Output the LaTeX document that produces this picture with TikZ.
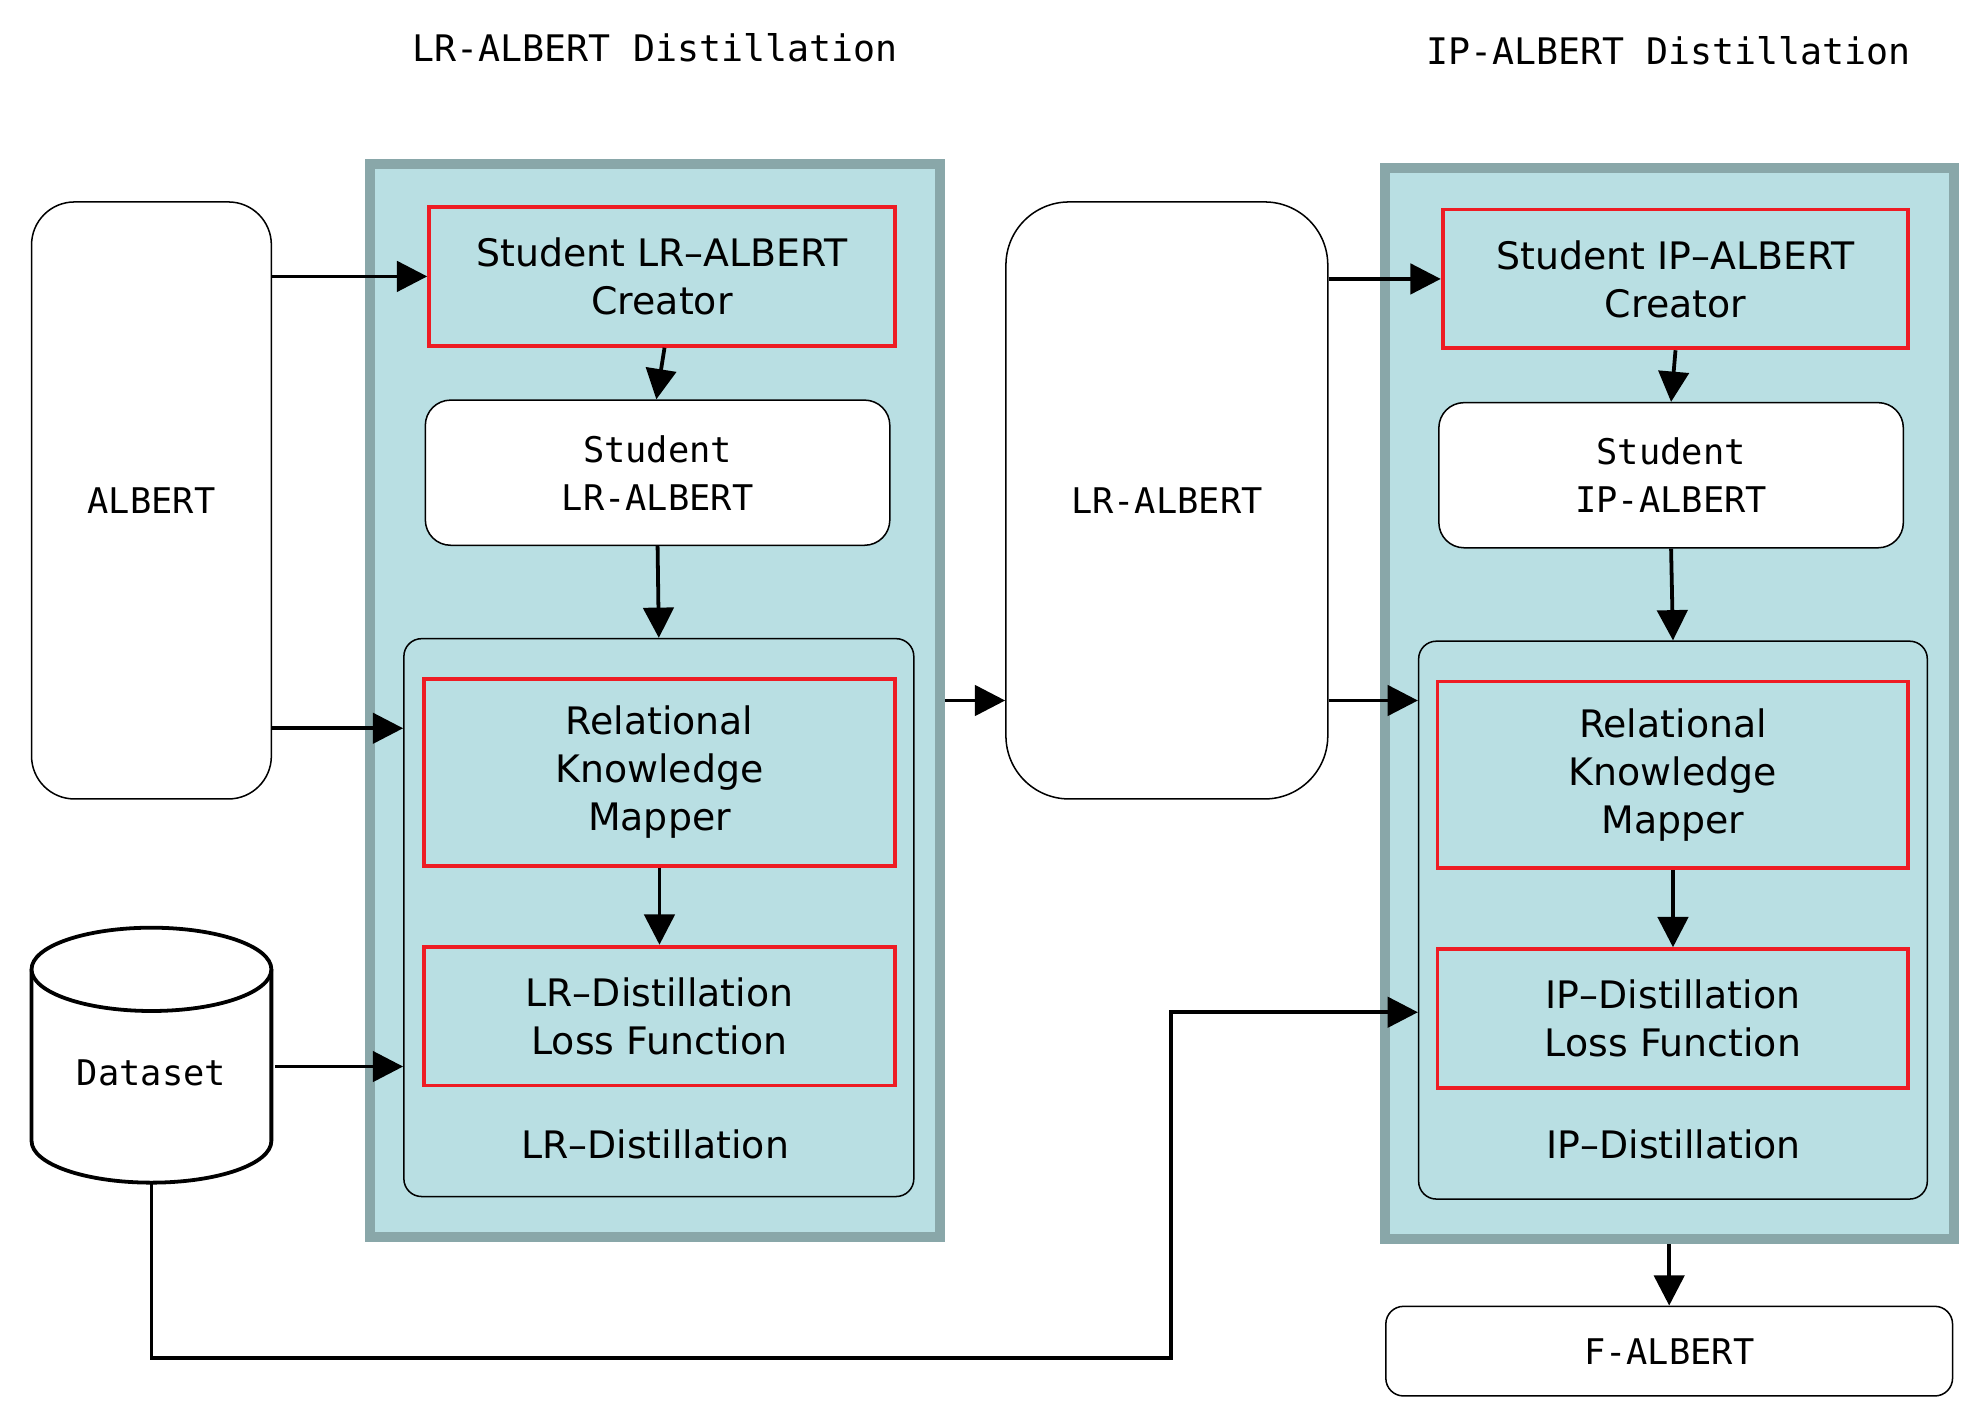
\documentclass[tikz,border=0pt]{standalone}
\usepackage{fontspec}
\setmainfont{DejaVu Sans}
\newfontfamily\mono{DejaVu Sans Mono}
\usetikzlibrary{fit,arrows.meta,shapes.geometric}
\definecolor{fillc}{HTML}{B9DFE3}
\definecolor{borderc}{HTML}{89A7A9}
\definecolor{redc}{HTML}{EE1C24}
\begin{document}
\begin{tikzpicture}[x=0.5pt,y=-0.5pt,
  arr/.style={line width=1.5pt,-{Triangle[length=12pt,width=12pt]}},
  outer/.style={draw=borderc,line width=4pt,fill=fillc,inner sep=0pt},
  redb/.style={draw=redc,line width=1.5pt,fill=fillc,inner sep=0pt,align=center,font=\fontsize{15}{19}\selectfont},
  whiteb/.style={draw=black,line width=0.6pt,fill=white,inner sep=0pt,align=center,font=\mono\fontsize{14}{19}\selectfont},
  innerb/.style={draw=black,line width=0.6pt,fill=fillc,inner sep=0pt,rounded corners=7pt},
  lbl/.style={font=\fontsize{15}{19}\selectfont},
  ttl/.style={font=\mono\fontsize{14.5}{18}\selectfont}]
\useasboundingbox (0,0) rectangle (1564,1120);
\node[ttl] (t1) at (519,38) {LR-ALBERT Distillation};
\node[ttl] (t2) at (1322,40) {IP-ALBERT Distillation};
% left
\node[outer,fit={(293,130)(745,980)}] (outL) {};
\node[outer,fit={(1097,133)(1548,982)}] (outR) {};
\node[whiteb,rounded corners=17pt,fit={(25,160)(215,633)}] (albert) {};
\node[font=\mono\fontsize{14}{19}\selectfont] at (albert.center) {ALBERT};
\node[whiteb,rounded corners=25pt,fit={(797,160)(1052,633)}] (lr) {};
\node[font=\mono\fontsize{14}{19}\selectfont] at (lr.center) {LR-ALBERT};
\node[redb,fit={(340,164)(709,274)}] (crL) {};
\node[lbl,align=center] at (crL.center) {Student LR–ALBERT\\Creator};
\node[whiteb,rounded corners=10pt,fit={(337,317)(705,432)}] (stL) {};
\node[font=\mono\fontsize{14}{19}\selectfont,align=center] at (stL.center) {Student\\LR-ALBERT};
\node[innerb,fit={(320,506)(724,948)}] (inL) {};
\node[redb,fit={(336,538)(709,686)}] (rkL) {};
\node[lbl,align=center] at (rkL.center) {Relational\\Knowledge\\Mapper};
\node[redb,fit={(336,750)(709,860)}] (loL) {};
\node[lbl,align=center] at (loL.center) {LR–Distillation\\Loss Function};
\node[lbl] (dlL) at (519,907) {LR–Distillation};
% right
\node[redb,fit={(1143,166)(1512,276)}] (crR) {};
\node[lbl,align=center] at (crR.center) {Student IP–ALBERT\\Creator};
\node[whiteb,rounded corners=10pt,fit={(1140,319)(1508,434)}] (stR) {};
\node[font=\mono\fontsize{14}{19}\selectfont,align=center] at (stR.center) {Student\\IP-ALBERT};
\node[innerb,fit={(1124,508)(1527,950)}] (inR) {};
\node[redb,fit={(1139,540)(1512,688)}] (rkR) {};
\node[lbl,align=center] at (rkR.center) {Relational\\Knowledge\\Mapper};
\node[redb,fit={(1139,752)(1512,862)}] (loR) {};
\node[lbl,align=center] at (loR.center) {IP–Distillation\\Loss Function};
\node[lbl] (dlR) at (1326,907) {IP–Distillation};
\node[whiteb,rounded corners=7pt,fit={(1098,1035)(1547,1106)}] (fal) {};
\node[font=\mono\fontsize{14}{19}\selectfont] at (fal.center) {F-ALBERT};
% dataset cylinder
\draw[line width=1.5pt,fill=white] (25,768) -- (25,904) arc[start angle=180,end angle=0,x radius=95,y radius=33] -- (215,768);
\draw[line width=1.5pt,fill=white] (120,768) ellipse[x radius=95,y radius=33];
\coordinate (dsE) at (218,845);
\coordinate (dsB) at (120,937);
\node[font=\mono\fontsize{14}{19}\selectfont] (ds) at (120,850) {Dataset};
% arrows
\draw[arr] (albert.east|-crL.west) -- (crL.west);
\draw[arr] (albert.east|-0,577) -- (inL.west|-0,577);
\draw[arr] (dsE) -- (inL.west|-dsE);
\draw[arr] ([xshift=1pt]crL.south) -- ([xshift=-0.5pt]stL.north);
\draw[arr] (stL.south) -- (inL.north);
\draw[arr] (rkL.south) -- (loL.north);
\draw[arr] (outL.east|-0,555) -- (lr.west|-0,555);
\draw[arr] (lr.east|-crR.west) -- (crR.west);
\draw[arr] (lr.east|-0,555) -- (inR.west|-0,555);
\draw[arr] (crR.south) -- (stR.north);
\draw[arr] (stR.south) -- (inR.north);
\draw[arr] (rkR.south) -- (loR.north);
\draw[arr] (dsB) -- (120,1076) -- (928,1076) -- (928,802) -- (inR.west|-0,802);
\draw[arr] (outR.south-|fal.north) -- (fal.north);
\end{tikzpicture}
\end{document}
